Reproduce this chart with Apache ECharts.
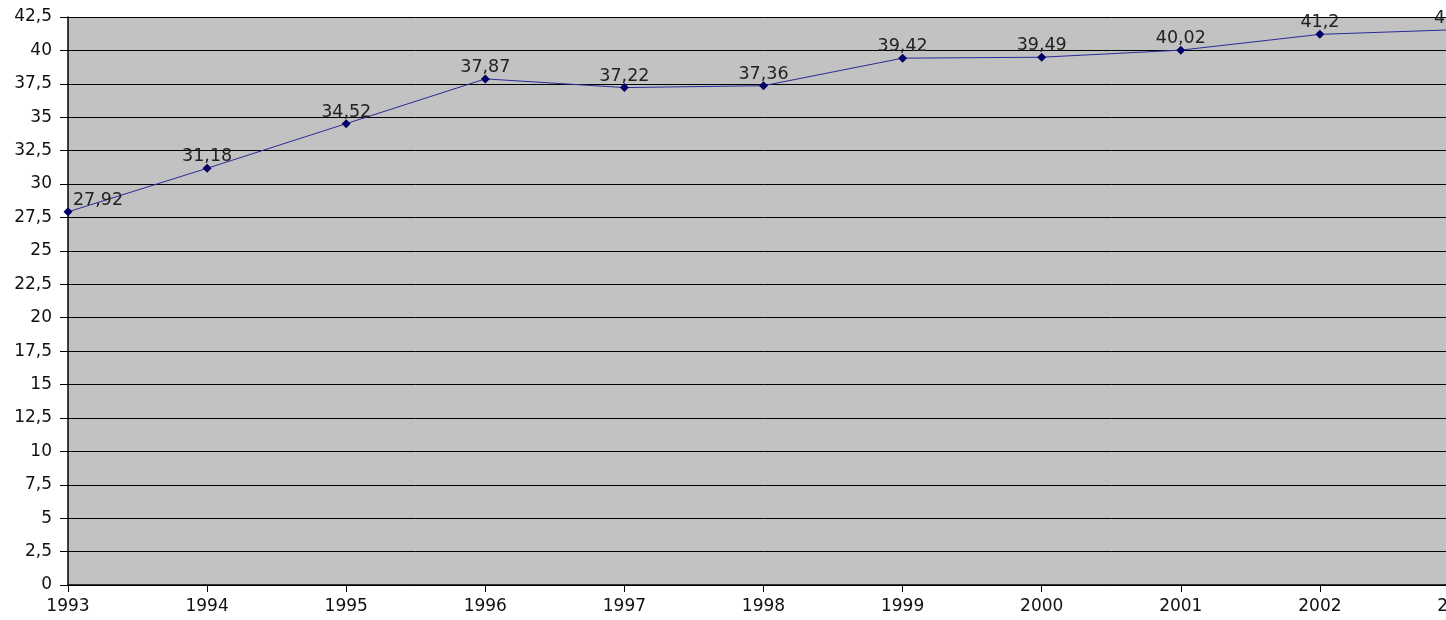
<!DOCTYPE html>
<html><head><meta charset="utf-8">
<script src="https://cdn.jsdelivr.net/npm/echarts@6/dist/echarts.min.js"></script>
<style>html,body{margin:0;padding:0;background:#fff;overflow:hidden;width:1446px;height:620px}#c{width:1500px;height:620px}</style>
</head><body><div id="c"></div>
<script>
const years = ['1993','1994','1995','1996','1997','1998','1999','2000','2001','2002','2003'];
const values = [27.92, 31.18, 34.52, 37.87, 37.22, 37.36, 39.42, 39.49, 40.02, 41.2, 41.56];
const yMin = 0, yMax = 42.5, yStep = 2.5;

const fmt = v => String(v).replace('.', ',');
const chart = echarts.init(document.getElementById('c'));
chart.setOption({
  animation: false,
  grid: { left: 68, top: 17, width: 1391, height: 568, show: true, backgroundColor: '#c2c2c2', borderWidth: 0, containLabel: false },
  xAxis: {
    type: 'category', data: years, boundaryGap: false,
    axisLine: { lineStyle: { color: '#000', width: 1.5 } },
    axisTick: { show: true, length: 7, alignWithLabel: true, lineStyle: { color: '#000' } },
    axisLabel: { color: '#111', fontFamily: 'DejaVu Sans', fontSize: 17, margin: 13, interval: 0 },
    splitLine: { show: false }
  },
  yAxis: {
    type: 'value', min: yMin, max: yMax, interval: yStep,
    axisLine: { show: true, lineStyle: { color: '#000', width: 1.5 } },
    axisTick: { show: true, length: 8, lineStyle: { color: '#000' } },
    axisLabel: { color: '#111', fontFamily: 'DejaVu Sans', fontSize: 17, margin: 16, formatter: v => fmt(v) },
    splitLine: { show: true, lineStyle: { color: '#000', width: 1 } }
  },
  series: [{
    type: 'line', data: values.map((v, i) => i === 0 ? { value: v, label: { offset: [30, 2] } } : v),
    symbol: 'diamond', symbolSize: 9, clip: false,
    lineStyle: { color: '#2a2a9a', width: 1 },
    itemStyle: { color: '#000066' },
    label: { show: true, position: 'top', distance: 0, offset: [0, 2], color: '#222', fontFamily: 'DejaVu Sans', fontSize: 17.5, formatter: p => fmt(p.value) }
  }]
});
</script></body></html>
